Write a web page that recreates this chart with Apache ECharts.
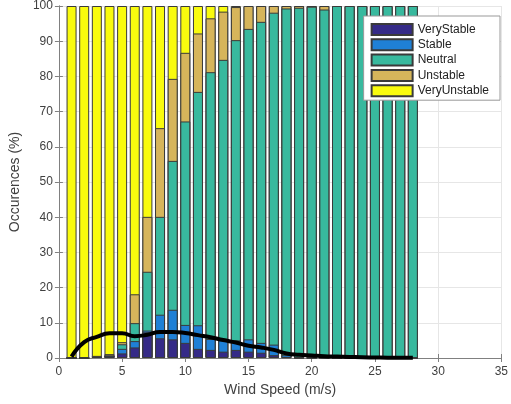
<!DOCTYPE html>
<html lang="en">
<head>
    <meta charset="UTF-8">
    <title>Stability vs wind speed</title>
    <script src="https://cdn.jsdelivr.net/npm/echarts@6/dist/echarts.min.js"></script>
</head>
<body style="margin:0;">
<div id="main" style="width: 511px;height:404px;"></div>
<script type="text/javascript">
    // wind speed bins (m/s)
    var windSpeed = [1,2,3,4,5,6,7,8,9,10,11,12,13,14,15,16,17,18,19,20,21,22,23,24,25,26,27,28];

    // occurrences (%) per stability class, stacked from the bottom
    var veryStable   = [0,0,0.3,0.5,1.3,3.0,7.3,5.6,5.3,4.3,2.6,2.3,1.8,2.3,1.8,1.5,0.8,0.2,0,0,0,0,0,0,0,0,0,0];
    var stable       = [0,0,0,0.2,1.3,1.8,0.5,6.7,8.4,5.1,6.7,3.1,3.3,2.7,3.5,2.8,3.0,0.6,0.1,0,0,0,0,0,0,0,0,0];
    var neutral      = [0,0,0,0,1.3,5.1,16.7,27.8,42.3,57.8,66.3,75.8,79.6,85.3,88.2,91.2,94.3,98.5,99.4,99.8,99.0,100,100,100,100,100,100,100];
    var unstable     = [0,0,0.3,0.4,0.6,8.2,15.6,25.2,23.3,19.5,16.6,15.3,13.7,9.4,6.5,4.5,1.9,0.7,0.5,0.2,1.0,0,0,0,0,0,0,0];
    var veryUnstable = [100,100,99.4,98.9,95.5,81.9,59.9,34.7,20.7,13.3,7.8,3.5,1.6,0.3,0,0,0,0,0,0,0,0,0,0,0,0,0,0];

    // wind speed distribution (black curve)
    var windDist = [0.4,4.5,6.0,7.0,7.0,6.2,6.6,7.4,7.4,7.1,6.5,5.9,5.1,4.4,3.5,3.0,2.3,1.3,0.9,0.7,0.5,0.4,0.3,0.2,0.15,0.1,0.1,0.1];

    var classNames = ["VeryStable","Stable","Neutral","Unstable","VeryUnstable"];
    var classValues = [veryStable, stable, neutral, unstable, veryUnstable];
    var classColors = ["#352a87","#1f80d6","#38b99e","#d6b55b","#f9fb0e"];

    // running totals, so each class is drawn as a bar from 0 to its stack top
    var tops = [];
    var run = windSpeed.map(function () { return 0; });
    classValues.forEach(function (vals) {
        run = run.map(function (r, i) { return r + vals[i]; });
        tops.push(run.slice());
    });

    function pairs(vals) {
        return windSpeed.map(function (x, i) { return [x, +vals[i].toFixed(2)]; });
    }

    var myChart = echarts.init(document.getElementById("main"));

    var axisGray = "#808080";
    var labelColor = "#404040";
    var font = "Liberation Sans";

    // tallest first, smaller ones on top of it
    var series = [];
    for (var k = classNames.length - 1; k >= 0; k--) {
        series.push({
            name: classNames[k],
            type: "bar",
            barWidth: 10,
            barGap: "-100%",
            itemStyle: {color: classColors[k], borderColor: "#3a3a3a", borderWidth: 1},
            data: pairs(tops[k])
        });
    }
    series.push({
        name: "dist",
        type: "line",
        smooth: true,
        showSymbol: false,
        symbol: "none",
        z: 10,
        lineStyle: {color: "#000", width: 4},
        data: pairs(windDist)
    });

    var option = {
        animation: false,
        textStyle: {fontFamily: font},
        grid: {left: 56, right: 9, top: 6, bottom: 46, show: false},
        legend: {
            data: classNames,
            orient: "vertical",
            right: 11,
            top: 16,
            icon: "rect",
            itemWidth: 41,
            itemHeight: 11,
            itemGap: 2.3,
            backgroundColor: "#fff",
            borderColor: "#999",
            borderWidth: 1,
            borderRadius: 0,
            padding: [7, 11, 3, 7],
            textStyle: {fontSize: 12, lineHeight: 13, color: "#222", fontFamily: font}
        },
        xAxis: [
            {
                type: "value",
                min: 0, max: 35, interval: 5,
                name: "Wind Speed (m/s)",
                nameLocation: "middle",
                nameGap: 25,
                nameTextStyle: {fontSize: 14, color: labelColor},
                axisLine: {show: true, onZero: false, lineStyle: {color: axisGray}},
                axisTick: {show: true, inside: true, length: 4, lineStyle: {color: axisGray}},
                axisLabel: {color: labelColor, fontSize: 12, margin: 8},
                splitLine: {show: true, lineStyle: {color: "#e6e6e6"}}
            },
            {
                type: "value",
                position: "top",
                min: 0, max: 35, interval: 5,
                axisLine: {show: true, lineStyle: {color: axisGray}},
                axisTick: {show: true, inside: true, length: 4, lineStyle: {color: axisGray}},
                axisLabel: {show: false},
                splitLine: {show: false}
            }
        ],
        yAxis: [
            {
                type: "value",
                min: 0, max: 100, interval: 10,
                name: "Occurences (%)",
                nameLocation: "middle",
                nameGap: 33,
                nameTextStyle: {fontSize: 14, color: labelColor},
                axisLine: {show: true, lineStyle: {color: axisGray}},
                axisTick: {show: true, inside: true, length: 4, lineStyle: {color: axisGray}},
                axisLabel: {color: labelColor, fontSize: 12, margin: 6},
                splitLine: {show: true, lineStyle: {color: "#e6e6e6"}}
            },
            {
                type: "value",
                position: "right",
                min: 0, max: 100, interval: 10,
                axisLine: {show: true, lineStyle: {color: axisGray}},
                axisTick: {show: true, inside: true, length: 4, lineStyle: {color: axisGray}},
                axisLabel: {show: false},
                splitLine: {show: false}
            }
        ],
        series: series
    };

    myChart.setOption(option);
</script>
</body>
</html>
